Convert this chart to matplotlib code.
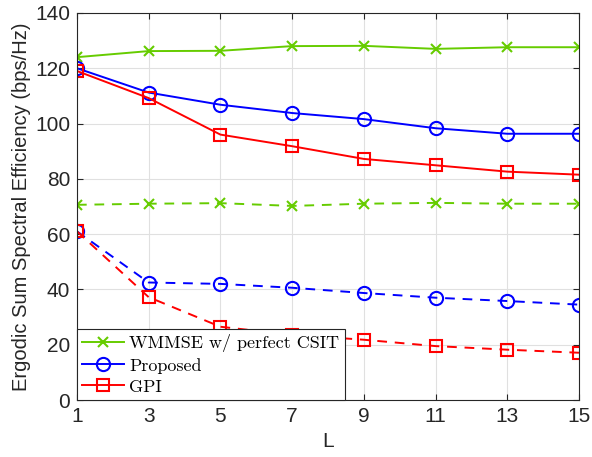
import matplotlib
matplotlib.use('Agg')
import matplotlib.pyplot as plt

###############################
# data
###############################
L = [1, 3, 5, 7, 9, 11, 13, 15]

wmmse_solid = [124.0, 126.2, 126.3, 128.0, 128.1, 127.0, 127.6, 127.6]
prop_solid = [120.0, 111.2, 106.8, 103.8, 101.6, 98.3, 96.3, 96.3]
gpi_solid = [119.0, 109.2, 96.0, 91.8, 87.2, 84.9, 82.6, 81.5]

wmmse_dash = [70.6, 71.0, 71.2, 70.2, 71.0, 71.3, 71.0, 71.0]
prop_dash = [61.0, 42.5, 42.0, 40.6, 38.7, 37.0, 35.8, 34.5]
gpi_dash = [61.0, 37.2, 26.5, 23.6, 21.8, 19.5, 18.2, 17.1]

labels = ['WMMSE w/ perfect CSIT', 'Proposed', 'GPI']

###############################
# plot
###############################
green = '#66cc00'
plt.rcParams['font.family'] = ['Liberation Sans', 'DejaVu Sans']

fig = plt.figure(figsize=(5.92, 4.57), dpi=100)
ax = fig.add_axes([0.130, 0.1247, 0.848, 0.847])

lw = 1.4
ax.plot(L, wmmse_solid, '-x', color=green, lw=lw, ms=7, mew=1.5, label=labels[0])
ax.plot(L, prop_solid, '-o', color='b', lw=lw, ms=9.5, mfc='none', mew=1.5, label=labels[1])
ax.plot(L, gpi_solid, '-s', color='r', lw=lw, ms=8, mfc='none', mew=1.5, label=labels[2])

ax.plot(L, wmmse_dash, '--x', color=green, lw=lw, ms=7, mew=1.5, dashes=(5, 4))
ax.plot(L, prop_dash, '--o', color='b', lw=lw, ms=9.5, mfc='none', mew=1.5, dashes=(5, 4))
ax.plot(L, gpi_dash, '--s', color='r', lw=lw, ms=8, mfc='none', mew=1.5, dashes=(5, 4))

ax.set_xlim(1, 15)
ax.set_ylim(0, 140)
ax.set_xticks(L)
ax.set_yticks(range(0, 141, 20))
ax.tick_params(direction='in', top=True, right=True, labelsize=15, colors='#262626',
               length=4, pad=5)
ax.grid(True, color='#e0e0e0', lw=0.8)
ax.set_axisbelow(True)
for sp in ax.spines.values():
    sp.set_color('#262626')
    sp.set_linewidth(0.8)

ax.set_xlabel('L', fontsize=15, color='#262626', labelpad=4)
ax.set_ylabel('Ergodic Sum Spectral Efficiency (bps/Hz)', fontsize=14.5, color='#262626', labelpad=3)

leg = ax.legend(loc='lower left', prop={'family': 'cmr10', 'size': 13}, fancybox=False,
                framealpha=1, edgecolor='#262626', borderaxespad=0, handlelength=2.3,
                handletextpad=0.3, labelspacing=0.3, borderpad=0.3)
leg.get_frame().set_linewidth(0.8)

plt.savefig('out.png', dpi=100)
